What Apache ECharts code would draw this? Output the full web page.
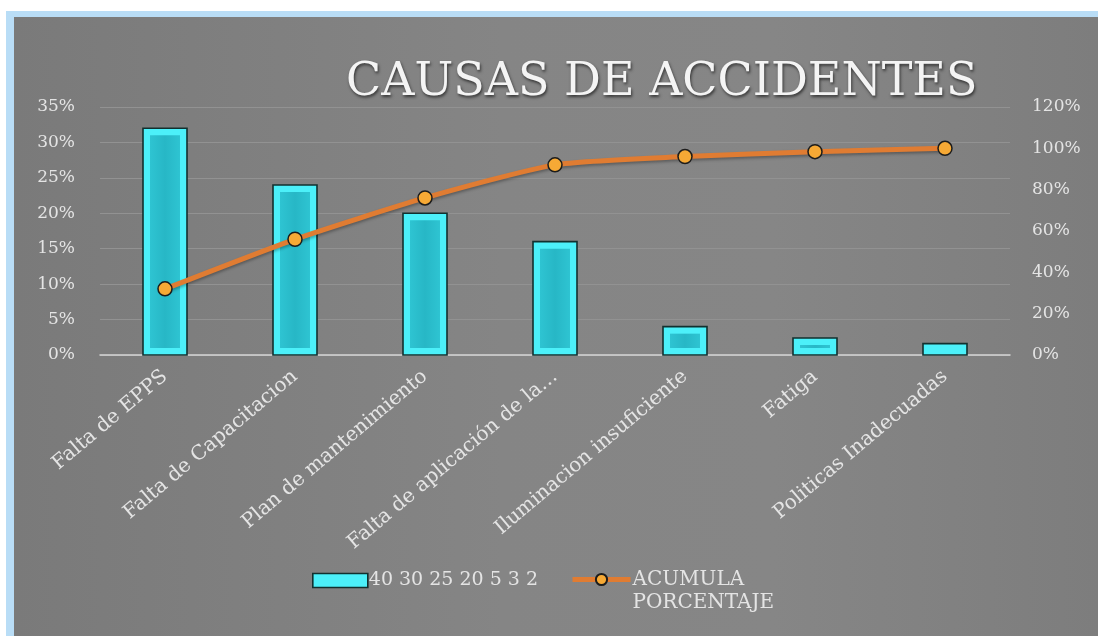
<!DOCTYPE html>
<html>
<head>
<meta charset="utf-8">
<script src="https://cdn.jsdelivr.net/npm/echarts@6/dist/echarts.min.js"></script>
<style>
  html, body { margin: 0; padding: 0; background: #ffffff; }
  #marco {
    position: absolute; left: 6px; top: 11px; width: 1092px; height: 625px;
    background: #b9ddf6;
  }
  #fondo {
    position: absolute; left: 14px; top: 17px; width: 1084px; height: 619px;
    background: linear-gradient(90deg, #7a7a7a 0%, #858585 45%, #868686 70%, #7d7d7d 100%);
  }
  #grafico { position: absolute; left: 0; top: 0; width: 1098px; height: 636px; }
</style>
</head>
<body>
<div id="marco"></div>
<div id="fondo"></div>
<div id="grafico"></div>
<script>
// datos del grafico
var causas = ['Falta de EPPS', 'Falta de Capacitacion', 'Plan de mantenimiento',
  'Falta de aplicación de la…', 'Iluminacion insuficiente', 'Fatiga', 'Politicas Inadecuadas'];
var porcentaje = [32, 24, 20, 16, 4, 2.4, 1.6];
var acumulado = [32, 56, 76, 92, 96, 98.4, 100];

var fuente = 'DejaVu Serif';
var gris = '#e4e4e4';
var cian = '#4cf0f9';
var turquesa = '#27b7c6';
var borde = '#12302f';

var chart = echarts.init(document.getElementById('grafico'));

// barra con bisel: rectangulo exterior cian y rectangulo interior turquesa
function dibujarBarra(params, api) {
  var arriba = api.coord([api.value(0), api.value(1)]);
  var base = api.coord([api.value(0), 0]);
  var alto = base[1] - arriba[1];
  var ancho = 44, bisel = 7;
  return {
    type: 'group',
    children: [{
      type: 'rect',
      shape: { x: arriba[0] - ancho / 2, y: arriba[1], width: ancho, height: alto },
      style: { fill: cian, stroke: borde, lineWidth: 1.6 }
    }, {
      type: 'rect',
      shape: {
        x: arriba[0] - ancho / 2 + bisel, y: arriba[1] + bisel,
        width: ancho - 2 * bisel, height: Math.max(0, alto - 2 * bisel)
      },
      style: {
        fill: new echarts.graphic.LinearGradient(0, 0, 1, 0, [
          { offset: 0, color: '#2ec4d2' },
          { offset: 0.5, color: turquesa },
          { offset: 1, color: '#2ec4d2' }
        ])
      }
    }]
  };
}

var option = {
  backgroundColor: 'transparent',
  title: {
    text: 'CAUSAS DE ACCIDENTES',
    left: 341,
    top: 55,
    textStyle: {
      fontFamily: fuente,
      fontSize: 46,
      fontWeight: 'normal',
      color: '#f4f4f4',
      textShadowColor: 'rgba(0,0,0,0.6)',
      textShadowBlur: 3,
      textShadowOffsetX: 1,
      textShadowOffsetY: 2
    }
  },
  legend: [{
    left: 312,
    top: 571,
    padding: 0,
    itemWidth: 55,
    itemHeight: 14,
    itemGap: 2,
    textStyle: { fontFamily: fuente, fontSize: 19, color: gris, padding: [0, 0, 0, -4] },
    data: [{
      name: '40 30 25 20 5 3 2',
      icon: 'rect',
      itemStyle: { color: cian, borderColor: borde, borderWidth: 1.6 }
    }]
  }, {
    left: 570,
    top: 545,
    padding: 0,
    itemWidth: 58,
    itemHeight: 14,
    lineStyle: { width: 5 },
    // linea vacia arriba para que ACUMULA quede alineado con el icono
    formatter: function () { return '\nACUMULA\nPORCENTAJE'; },
    textStyle: {
      fontFamily: fuente, fontSize: 20, color: gris,
      lineHeight: 23, padding: [0, 0, 0, -3]
    },
    data: ['ACUMULA PORCENTAJE']
  }],
  grid: { left: 100, right: 88, top: 107, bottom: 281 },
  xAxis: {
    type: 'category',
    data: causas,
    axisTick: { show: false },
    axisLine: { lineStyle: { color: '#d6d6d6', width: 1.5 } },
    axisLabel: {
      rotate: 40,
      interval: 0,
      margin: 19,
      fontFamily: fuente,
      fontSize: 20,
      color: gris
    }
  },
  yAxis: [{
    type: 'value',
    min: 0, max: 35, interval: 5,
    axisLine: { show: false },
    axisTick: { show: false },
    splitLine: { lineStyle: { color: '#929292', width: 1 } },
    axisLabel: {
      margin: 25,
      fontFamily: fuente, fontSize: 17, color: gris,
      formatter: function (v) { return v + '%'; }
    }
  }, {
    type: 'value',
    min: 0, max: 120, interval: 20,
    axisLine: { show: false },
    axisTick: { show: false },
    splitLine: { show: false },
    axisLabel: {
      margin: 22,
      fontFamily: fuente, fontSize: 17, color: gris,
      formatter: function (v) { return v + '%'; }
    }
  }],
  series: [{
    name: '40 30 25 20 5 3 2',
    type: 'custom',
    yAxisIndex: 0,
    renderItem: dibujarBarra,
    encode: { x: 0, y: 1 },
    itemStyle: { color: cian },
    data: porcentaje.map(function (v, i) { return [i, v]; })
  }, {
    name: 'ACUMULA PORCENTAJE',
    type: 'line',
    yAxisIndex: 1,
    data: acumulado,
    smooth: 0.2,
    symbol: 'circle',
    symbolSize: 14,
    lineStyle: {
      color: '#e07c32', width: 5,
      shadowColor: 'rgba(0,0,0,0.3)', shadowBlur: 3, shadowOffsetY: 2
    },
    itemStyle: { color: '#f6a935', borderColor: '#1c1c1c', borderWidth: 1.5 },
    z: 5
  }]
};

chart.setOption(option);
</script>
</body>
</html>
